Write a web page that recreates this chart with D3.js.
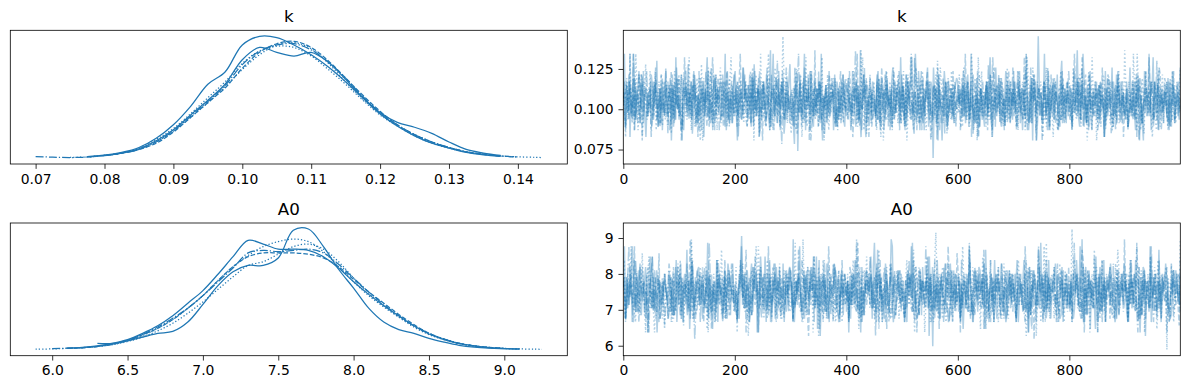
<!DOCTYPE html>
<html><head><meta charset="utf-8">
<script src="https://cdn.jsdelivr.net/npm/d3@7"></script>
<style>body{margin:0;background:#fff}</style>
</head><body><svg id="c" width="1189" height="390"></svg>
<script>
// ---------- data ----------
const varNames = ["k", "A0"];
const chainStyles = ["solid", "dotted", "dashed", "dashdot", "solid", "dotted"];

// KDE curves per chain (relative density)
const kGrid = [0.0700,0.0725,0.0750,0.0775,0.0800,0.0825,0.0850,0.0875,0.0900,0.0925,0.0950,0.0975,0.1000,0.1025,0.1050,0.1075,0.1100,0.1125,0.1150,0.1175,0.1200,0.1225,0.1250,0.1275,0.1300,0.1325,0.1350,0.1375,0.1400,0.1425,0.1435];
const kDensity = [
  [null,null,null,.010,.022,.045,.085,.16,.27,.42,.60,.70,.92,.99,.98,.92,.84,.74,.62,.49,.37,.29,.25,.20,.13,.07,.04,.02,null,null,null],
  [null,null,.004,.008,.020,.040,.070,.13,.22,.33,.45,.58,.72,.84,.92,.94,.89,.77,.62,.48,.36,.26,.18,.12,.08,.05,.03,.016,.009,.005,.003],
  [null,null,null,.008,.020,.038,.068,.12,.21,.33,.45,.57,.73,.86,.93,.95,.90,.79,.65,.51,.38,.27,.19,.13,.085,.05,.03,.015,null,null,null],
  [.011,.006,.003,.007,.018,.038,.070,.13,.22,.34,.46,.59,.76,.87,.92,.93,.88,.78,.65,.50,.37,.27,.19,.13,.085,.05,.028,.015,.008,null,null],
  [null,null,null,null,.020,.040,.075,.14,.23,.35,.47,.60,.80,.90,.86,.83,.86,.78,.64,.49,.36,.26,.18,.12,.08,.045,.025,.013,null,null,null],
  [null,null,null,.008,.020,.040,.080,.15,.24,.36,.49,.62,.77,.87,.91,.90,.83,.72,.60,.47,.35,.26,.19,.13,.085,.05,.03,.016,.008,null,null]
];
const a0Grid = [5.89,6.0,6.1,6.2,6.3,6.4,6.5,6.6,6.7,6.8,6.9,7.0,7.1,7.2,7.3,7.4,7.5,7.6,7.7,7.8,7.9,8.0,8.1,8.2,8.3,8.4,8.5,8.6,8.7,8.8,8.9,9.0,9.1,9.2,9.25];
const a0Density = [
  [null,null,null,null,.05,.05,.07,.10,.13,.145,.22,.36,.51,.62,.67,.67,.73,.95,.96,.82,.64,.49,.33,.22,.16,.13,.09,.06,.035,.02,.012,.008,.005,null,null],
  [.004,.006,.010,.015,.025,.040,.070,.11,.17,.24,.33,.43,.55,.66,.75,.82,.86,.88,.86,.78,.66,.54,.43,.34,.26,.19,.13,.085,.05,.03,.018,.010,.006,.004,.003],
  [null,null,.010,.015,.025,.045,.075,.12,.17,.24,.33,.43,.55,.66,.74,.77,.77,.77,.76,.73,.66,.56,.46,.37,.28,.20,.13,.085,.05,.03,.018,.010,null,null,null],
  [null,.008,.012,.016,.027,.045,.075,.12,.18,.25,.33,.43,.54,.65,.77,.79,.78,.79,.80,.77,.68,.57,.46,.36,.27,.19,.13,.085,.05,.03,.017,.010,null,null,null],
  [null,null,.012,.018,.030,.050,.080,.13,.19,.27,.37,.47,.60,.74,.87,.84,.80,.80,.79,.74,.65,.54,.44,.35,.27,.19,.125,.08,.05,.03,.016,.009,.006,null,null],
  [null,null,.010,.016,.026,.040,.065,.10,.15,.21,.29,.38,.48,.58,.67,.70,.76,.82,.84,.80,.70,.57,.45,.35,.26,.18,.12,.08,.05,.03,.017,.010,.006,null,null]
];

// trace samples per chain, one character per stored draw (level 0..35 of the value range)
const traceLevels = "0123456789abcdefghijklmnopqrstuvwxyz";
const kTraceRange = [0.0698, 0.1452];
const a0TraceRange = [5.89, 9.25];
const kTrace = [
  "hu9ldo6jfcnbhkpgemaikicgdolbhjs9fkamedpcjhn5glbtei"+"ckoa8hmfrdjbgpl9eicnhk6fmtdjag8olckhibemd9jpgaiekn"+"pe5jlcbqhmhgfoakdrichn7bjlfeomc8hkudgiap9lfncjbhmr"+"dha4kp2fmchbqlhgjeoc9ndkhmaufi7lbepcgj8oamkdhifb9l"+"jnhfcpmd9hkbveloa6gicidmjf9obkhnl8cpeigamqgdhjfkbo"+"gbhodhmkta7jfcpiebn8hlq9dmk0gjacohe5fpkbmdiihcjln"+"mfhkcpjaho9dulbegn6fkigc9jmdhoa8lbqgekcnhfipmdhajb"+"pdghjmaf8kcqlegbn5oidhzjihamkcfp9ehlbjgo8dnscfkami"+"ekahpdhnc9jfumbgl8oeichihkdamjf6pbnlegq9hcokdimajf"+"bmghqcekd8ognjfa5plchtk8ebmjdohfihakgcn8mdpijelfbh",
  "jdhnhcufak9mgeobl6dirhcjpegkgnbfmao8hdilcje7kbpgfn"+"cgohejmbhtd8lkfanic5rhejdmigpbkcfo8hlqaemdj9gnbkhc"+"ihgcfnkdajm9ebpgl5hodkcufmja9ignbe8hqldchkjzmfoahe"+"ekhbmqhdgo6caljfn8pdhkbie9mgtcfjao8dlhnibe9kcgmfjd"+"hbngfdpjka9lcvegmi7bhodkfic8jnamg5elpbhdk8qcfjomia"+"mf9jcohbuk8dgenalhphcjmdik6ebfoi9gqlhajc7nkdpfbmhe"+"dohkgqjcbm9hfeanl5tkdpcgj9mbhoifehilkcnagd9hqbjmfk"+"gk9cpmhdbo8uejfalgncdhkigb6mjqeo9fkhdlc8ajpbngidmh"+"lc8qhdbjno9fmekahpgdthcj5bklfiom8ehnadc9gjbkpfhmie"+"bh9mefduko8cjlanhgphdkic6fmebjq9hoalkc8dngpfbjmheq",
  "fmhhjbudcn8keaolg5phicdkj8bmfqhea9ongcjk7ldpbhmfie"+"nd8ajtfhkbhmcoelg6pdhijck9fbmqae8ohnlgcd9jkpbfhmai"+"ck9gmubhdohflejan9pchkidf5mjbqeg9ohlcnakd8jpfbgmhe"+"hjhdqf7bkm9cnealo5gphcvdk9jmbfiegfhognlcad9kjpbhmfe"+"ebpkh6cmfuadj8lognhbik9cfedmjahqhgobn9kelcpfdjm8hi"+"lc8omhftbdhjaegkn8ihcmpdj5bflkeqo8hangcd9mjkbphfei"+"gk9ndcuhmfbheojlap6hkcidgm8jfbenq9lhoacdk8gjmpbhfi"+"mh8pdjckft9bealgnhohdikcj5fmbgqe8ohlnacdk9jpfhbmie"+"bd9kuhcmfnhjeloag9pihdckj8bmfqeh9gonl7adkcjpfhbm6e"+"if8hdjcbkm6oenlaghphcudkj9mfbeqo8hgnlcadk9jpbfhmie",
  "ic9lgemjbu8dkhfaonchjpehk6dgmibfial8hcqjmdkeo9gbnf"+"bh5gkmqdfjchlhoebi8gkdnfpmc9hjtlaegk8bdoimfji9hcle"+"dfm6hkicgjb9lieohndgkhpfcmjb9ilaekg8dhsfjc4mbhqlei"+"gc9kjhmudfblheikhg5adjmcfpbl8hekigdijmhc9fkblaeogn"+"mhhdjfckvglb9heiqdmk6gajfhclbni9gdkimhe8jcfbglkpda"+"ek9hbmjdgfctl8iahpkdghmjbefhlck5ndjigi7mhbekfcjl9g"+"hj8fcldgmibk6ieahjd9kfmgclbrhehtjkdgfimcbh9laekjgq"+"cghmkhdjbflu8eaqhkgd5mjcfblihe8kidgnjmhf9cbklaegjp"+"jl8hdfkcmgbt9eiahokdhjgfmclbihe6kidgjfmch8bklaegjd"+"fk9bhjmdcgli5eiahkfghjdmcblhs8ekidgjfmhc9blkaegjdh",
  "kf8hdmjcgulbhieaokhd6gjfmcbilhe9kdgjimhfc8blkaeqjd"+"eb5nhkicfjm7dlgiahe8mkcjgpbhdhlnfiekmhcgu8jbkeadof"+"lchejhqmgkbfd9oaihcl6jkemgbdhiv9fkcnljgemh7bkdiaf"+"bh9kmcfogdju8ielpbhchfkgmjd5ehlaicigkhn9fbjdmoegck"+"di8fkhgmbjc6ekhlafhnibdgcmph8kejbglifi9chmdkjatel"+"hc9mjfbgdkulie8hcakgjhmfdbqikh5lgefcjm9bhdkiafgjl"+"gfhlckbhjdmi7iaehg9kbcfjldmth6giecknb9fhajdlgmcke"+"mb9gpekjhcfi8dlaghm5bkejcfudih8lgckbjheifmadkgicj"+"cjhhflvdkbmg9iaehjc8kfmbglidih6ekcjgbfmhlaokdgiec"+"ek9dhgcmbjfl5iaehdkhgcmjtbfhl8ickegjdbm9hfkaigcjq",
  "fj6mbhkdgicul8ehjkmhfbdgihlcp8jekfgdmbh9ilajcfkgeo"+"ih8dkcgmfjbil9eahnkd5jgicqfhm9ekbldgohjhfcikmtgdje"+"dm9jhfbkgcielhqhdjkf6mbgcehlu8aikdgjfn9mhcbeklgd7j"+"kg8cidfhmjbt9leagkhchdjmfbi5hlekgdjicmf8hbilakegj"+"hj9fkdmcgbilt8eahgkhjdmcfbhl6ekidgjfmh9cblkagejdp"+"cm5dkhgjfbqlihahekd8gjmcfblh9sekidgjmh8fcbklagejd"+"jh9kfmdgcbul8eiahokdhjgmcfbl6hekidgjfm9hcbklaegji"+"dg8khjmfcbtlihaqhk8dgjmfcbl9hekid6jmh8fcbklaegjd"+"hf9kdjmgcbqlihe5hkd8gjmfcbl9hekidgjmh8fcbklaegjdv"+"kc9jhdmfgbuli8ea7hkhdgjmfcb8lhekidgjm9hfcbklaegjd"
];
const a0Trace = [
  "iu9lfdoj8hqbmgkphehkod5jgmrcfinhl9bekjigdmhiafko8g"+"kg9djmhtbilfohchjkemi9gdinflcj6hkbqemgi9dlhfjnakpe"+"jd9hmkxflicni8ehbjmgk5doilfrhcjm8ekgphldnifhkjbgmo"+"mh8fkjdlugbincmhhekojfgr6dlhkimbc9ejhgfpnldk8miagi"+"gk5jdhmlficnbi8hejkgmdl9ovhjimfl8chdkgbiwuemjhlnfc"+"hk8dmjglfvbichhnjekgdhmr4lfoicjbhk9mgediljfph8ncgk"+"lg9jcmhdkfuibhhnjelmgkdp6cihfjli8emhgkdjbif9nhlcmg"+"jm8hdlgfkqibn5hcjemkgdthhlifncmbj9hkegdlmjfo8ihcgk"+"cfhmkhqjdlgwb8iehmkfjcd6lhgonbji8kimdhgflc9jaikhmp"+"hb8kfmjdgqilc5hkemjfgbu8dlhiikcj9mgehdkbfhljinhgdm",
  "hq8dlfmkgchenhbkjsgd5loifhckj9bmhgeld6jifnch8mgbki"+"mg9k7hjflibvn8ekhjmdgohlif5cjhbm8ekgdhtfji9cnmhgkb"+"dk8hmjgpfbic4ehnjkmuhgloficji9hbkmegd8hljifc9nhgmk"+"jh9mdkglficwhbnhejkm5gdlhoifi8cjbhkegd9ljfinch8gmk"+"ek8gmcjdhuif9blnkhgmhdejcliof6hkbgjdmh8leckfinj9gb"+"lh9cjmdkgftibhhonekj5dmglhcf8ijbkmhd9gelfkjcn8ihbg"+"fj8dkhmglcvibhnehkjg6mdlfohi9cjbkhme8gdljfihc9nkgm"+"ig9mkdhjflcqhbenhkjm4gdolifu8hcjbkmh9gedlfjki8ncgh"+"kfzmdhjlgci9ibnehk5jmdglofh9icjbkmhhegdljfitncgkhm"+"hj8mdkglfcui9bnhejkhmgdlhfoi6cjbmhkeg0ljfin8chgmkb",
  "gh9lcjfmdkubie8ohgkjdm5flchbnihe8kgjdmhf9clbkoaegj"+"jmhdhkgfclwbi9ehnkdjgm8fclbhi6ekidgjmhf8cqblkaegjd"+"dh9fkjmgcltbi8eahkdgj5mfclbhihekidgjmh9fcblkaegjdo"+"kj8hdgmfcbqlihea4kdgj8mfclbhe9kidgujmh8fcblkaeqgjd"+"fk9hdjmgcbvli8eahkdghjmfclbpe8kidgjm6hf9cblkaegjdi"+"hd8kjfmgcbqli5eahkdghjmfclbhe9kidgjmh8fcbulkaegjds"+"mg9jdhkfcbtli8eahkdghjm6fclbh8ekidgjmh9fcblkaegjdi"+"jd8hkgmfcbuli9eahk3dghjmfclbh9ekidgjmh8fcblkaegjdo"+"dk9jhgmfcbltq5ieahkdhgjmfclbh8ekidgj9mhfcblkaegjdw"+"hm8jdgkfcbvli9eahkdghjmfclbh9ekidgjmh5fcblkaegjd7q",
  "kh9dmugjf8cqlbiehokahdg5jmrfclbhs9eki7dgjpmhf9cblo"+"ealgjhdpkh9mqf3cbhi8kelogd9vjmfh8bcqkgiaenh9dljpmf"+"cb8igqkfhm5djleaohrnhgkc9fmjbduhe8lpiakgo9cfhdmjbl"+"nh9eckgtjf8amldbihohkrcgfe6jmdqlbh9kaipgnce8fhjdmk"+"bj8omfhkdwc9gleiahnkhrjcdg4mfbqhelo8kcaipgj9dfhmne"+"fe9kcjqhmbd8olganhkhcufjdm8bgqeil6hkcoapgn8djfhbme"+"hm5qdkfcjbg9ealohnhkdcjtfm9bgqei8lhkocapg9ndjfhmeb"+"ic9hkmjdfb8egloa6nhdckujfm8bgqelihhkocap8gnjdfhmbe"+"dj8fvhkmcb9goelanhhkdcrjf5mbgqel8ihkocap9gnjdfhmbe"+"ki9cfqhdmjb5oealgn9hkdcuj8fmbgqehlihkoc8apgnjdfhmb",
  "il9fkdhmujcgbhneahkd9gjmrfclbh5ekidgjmhf9cblkaeqjd"+"mpc8hjdak6gqfblenohdhkcigv9mafjebq8kdhlcn9gpmjiefb"+"fha9kudmcgjhblpeoin5hcrkdfg8maqjbel9ohkdicp8gnfjmh"+"cw8ekhmjdbf9lgoanihrchkdq4fjmbgpe8lhikodca9gnfjmhe"+"jb9mdkqhfce5ogalnihhrckdf8tjmbge9plhikod8cagnfjmeh"+"gd8nkjufmhc9belaohhkdcrfj1mbgqe9lhikpdc8agnfjmehbk"+"ah6ecmkjqfd8hlgbonhkdcthf8jmbgqe9lhipkdc8agnfjmeh"+"kq8fhjbdmce5oaglnh8kdcvf9jmbgqelhhipkdc9agnfjmehb"+"md9ckjfhube8loagn6hkdcrf8jmbgqehlhipkdc8agnfjmehk"+"eh8jqcfmkdb9glaon4hkdcrfhjmbgte8lhipkdc9agnfjmehd",
  "jh9dmkgufcb8lieahkhdgjmrfclb5hekidg9jmhfcbl8kaegjp"+"dqbl8hmekcgw9fjaidhoklhcp6gmdbjfe8qhnkacl9gmidjhfi"+"eo5gkqhjcdm9bflainhhcukdgf9mjqbel8ohkdicpa9gnfjmhb"+"ck9hvejmfdb8lgaonhhkcrdfg4jmbqel9hokdicp8agnfjmhed"+"hm8jdkqcfbe6olagnhrhkcdjf9mbgtel8hikodcp9agnfjmhek"+"fb9kqhdmjce5olganhhkdcrjf8mbgqyl9hikodc8apgnfjmhed"+"lj8dukhfcmb9eoagnhhkdcrjf6mbgqel8hikodc9apgnfjmhek"+"gc9mqhkdjfb4eolanhhkdcrj8fmbgvel9hikodc8apgnfjmhed"+"dk8hqjmcfbe9olagnhhkdctjf5mbgqel8hikodc9apgnfjmhek"+"mh9jqdkcfbe8olagn5hkdcrjfhmbgqel9hikodc8apgnfjmhew"
];

const kDensityTicks = [0.07,0.08,0.09,0.10,0.11,0.12,0.13,0.14];
const a0DensityTicks = [6.0,6.5,7.0,7.5,8.0,8.5,9.0];
const kTraceTicks = [0.075,0.100,0.125];
const a0TraceTicks = [6,7,8,9];
const drawTicks = [0,200,400,600,800];
const drawDomain = [0, 999];

// ---------- drawing ----------
const svg = d3.select("#c");
const blue = "#1f77b4";
const FONT = "DejaVu Sans, sans-serif";
const TICK = 4.86;

function dashFor(style, lw) {
  if (style === "dashed") return [3.7*lw, 1.6*lw].join(",");
  if (style === "dotted") return [1*lw, 1.65*lw].join(",");
  if (style === "dashdot") return [6.4*lw, 1.6*lw, 1*lw, 1.6*lw].join(",");
  return null;
}
function decode(str, range) {
  const n = traceLevels.length - 1;
  return Array.from(str).map(ch => traceLevels.indexOf(ch)).filter(i => i >= 0)
    .map(i => range[0] + i * (range[1] - range[0]) / n);
}
function padded(lo, hi) { const r = hi - lo; return [lo - 0.05*r, hi + 0.05*r]; }
function styleAxis(g) {
  g.select(".domain").remove();
  g.attr("font-size", 13.9).attr("font-family", FONT);
  g.selectAll(".tick line").attr("stroke", "#000").attr("stroke-width", 0.8);
  g.selectAll(".tick text").attr("fill", "#000");
}
let clipId = 0;
function frame(x0, y0, x1, y1, title) {
  svg.append("rect").attr("x", x0).attr("y", y0).attr("width", x1-x0).attr("height", y1-y0)
    .attr("fill", "none").attr("stroke", "#000").attr("stroke-width", 0.8);
  svg.append("text").attr("x", (x0+x1)/2).attr("y", y0 - 8.3).attr("text-anchor", "middle")
    .attr("font-family", FONT).attr("font-size", 16.7).attr("fill", "#000").text(title);
}
function clip(x0, y0, x1, y1) {
  const id = "clip" + (clipId++);
  svg.append("clipPath").attr("id", id).append("rect")
    .attr("x", x0).attr("y", y0).attr("width", x1-x0).attr("height", y1-y0);
  return "url(#" + id + ")";
}

function drawDensity(box, grid, dens, ticks, fmt, title) {
  const [x0, y0, x1, y1] = box;
  let xmin = Infinity, xmax = -Infinity, ymax = 0;
  dens.forEach(c => c.forEach((v, i) => { if (v != null) { xmin = Math.min(xmin, grid[i]); xmax = Math.max(xmax, grid[i]); ymax = Math.max(ymax, v); } }));
  const x = d3.scaleLinear().domain(padded(xmin, xmax)).range([x0, x1]);
  const y = d3.scaleLinear().domain(padded(0, ymax)).range([y1, y0]);
  const line = d3.line().defined(d => d[1] != null).x(d => x(d[0])).y(d => y(d[1])).curve(d3.curveCatmullRom.alpha(0.5));
  const g = svg.append("g").attr("clip-path", clip(x0, y0, x1, y1));
  dens.forEach((c, ci) => {
    g.append("path").attr("d", line(grid.map((gx, i) => [gx, c[i]])))
      .attr("fill", "none").attr("stroke", blue).attr("stroke-width", 1.25)
      .attr("stroke-dasharray", dashFor(chainStyles[ci % chainStyles.length], 1.25));
  });
  const ax = svg.append("g").attr("transform", `translate(0,${y1})`)
    .call(d3.axisBottom(x).tickValues(ticks).tickFormat(d3.format(fmt)).tickSize(TICK).tickPadding(TICK));
  styleAxis(ax);
  frame(x0, y0, x1, y1, title);
}

function drawTrace(box, chains, range, yTicks, yFmt, title) {
  const [x0, y0, x1, y1] = box;
  const series = chains.map(s => decode(s, range));
  const all = series.flat();
  const x = d3.scaleLinear().domain(drawDomain).range([x0, x1]);
  const y = d3.scaleLinear().domain(padded(d3.min(all), d3.max(all))).range([y1, y0]);
  const g = svg.append("g").attr("clip-path", clip(x0, y0, x1, y1));
  series.forEach((vals, ci) => {
    const n = vals.length;
    const line = d3.line().x((d, i) => x(i * drawDomain[1] / (n - 1))).y(d => y(d));
    g.append("path").attr("d", line(vals)).attr("fill", "none").attr("stroke", blue)
      .attr("stroke-opacity", 0.35).attr("stroke-width", 1.5)
      .attr("stroke-dasharray", dashFor(chainStyles[ci % chainStyles.length], 1.5));
  });
  const ax = svg.append("g").attr("transform", `translate(0,${y1})`)
    .call(d3.axisBottom(x).tickValues(drawTicks).tickFormat(d3.format("d")).tickSize(TICK).tickPadding(TICK));
  styleAxis(ax);
  const ay = svg.append("g").attr("transform", `translate(${x0},0)`)
    .call(d3.axisLeft(y).tickValues(yTicks).tickFormat(d3.format(yFmt)).tickSize(TICK).tickPadding(TICK));
  styleAxis(ay);
  frame(x0, y0, x1, y1, title);
}

const L = [10.3, 567.3], R = [623.3, 1180.3];
const row1 = [30.3, 164], row2 = [223, 355.7];
drawDensity([L[0], row1[0], L[1], row1[1]], kGrid, kDensity, kDensityTicks, ".2f", varNames[0]);
drawTrace([R[0], row1[0], R[1], row1[1]], kTrace, kTraceRange, kTraceTicks, ".3f", varNames[0]);
drawDensity([L[0], row2[0], L[1], row2[1]], a0Grid, a0Density, a0DensityTicks, ".1f", varNames[1]);
drawTrace([R[0], row2[0], R[1], row2[1]], a0Trace, a0TraceRange, a0TraceTicks, "d", varNames[1]);
</script>
</body></html>
